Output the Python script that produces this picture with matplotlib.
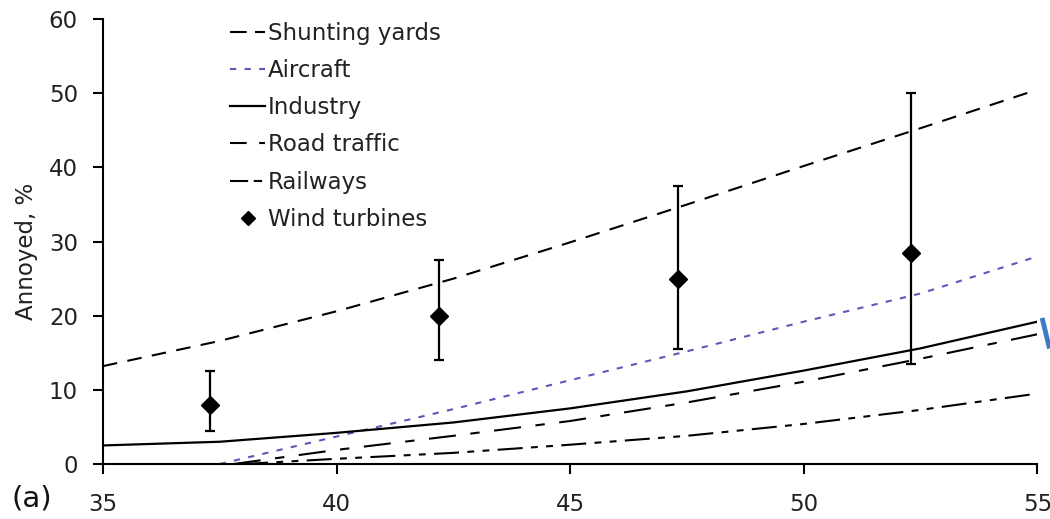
import matplotlib
matplotlib.use("Agg")
import matplotlib.pyplot as plt
from matplotlib.lines import Line2D

plt.rcParams['font.family'] = ['DejaVu Sans']

# sound level (x) and % annoyed (y)
x_full = [35, 37.5, 40, 42.5, 45, 47.5, 50, 52.5, 55]
shunting = [13.2, 16.6, 20.6, 25.0, 29.9, 35.0, 40.2, 45.3, 50.5]
industry = [2.5, 3.0, 4.2, 5.6, 7.5, 9.8, 12.6, 15.6, 19.2]

x_air = [37.5, 40, 42.5, 45, 47.5, 50, 52.5, 55]
aircraft = [0.0, 3.7, 7.4, 11.3, 15.2, 19.2, 23.0, 28.0]

x_road = [37.8, 40, 42.5, 45, 47.5, 50, 52.5, 55]
road = [0.0, 1.9, 3.8, 5.8, 8.3, 11.1, 14.2, 17.5]

x_rail = [38.0, 40, 42.5, 45, 47.5, 50, 52.5, 55]
railways = [0.0, 0.7, 1.5, 2.6, 3.8, 5.4, 7.3, 9.5]

wind_x = [37.3, 42.2, 47.3, 52.3]
wind_y = [8.0, 20.0, 25.0, 28.5]
wind_lo = [4.5, 14.0, 15.5, 13.5]
wind_hi = [12.5, 27.5, 37.5, 50.0]

labels = ['Shunting yards', 'Aircraft', 'Industry', 'Road traffic', 'Railways', 'Wind turbines']
blue = '#5a5ab8'

fig = plt.figure(figsize=(10.5, 5.19), dpi=100)
ax = fig.add_axes([0.098, 0.106, 0.890, 0.857])

ax.plot(x_full, shunting, color='black', lw=1.5, ls=(0, (7, 5)))
ax.plot(x_air, aircraft, color=blue, lw=1.5, ls=(0, (3, 4)))
ax.plot(x_full, industry, color='black', lw=1.6, ls='-')
ax.plot(x_road, road, color='black', lw=1.5, ls=(0, (13, 7, 4.5, 7)))
ax.plot(x_rail, railways, color='black', lw=1.5, ls=(0, (12, 4, 3.3, 4, 3.3, 4)))

yerr = [[y - lo for y, lo in zip(wind_y, wind_lo)], [hi - y for y, hi in zip(wind_y, wind_hi)]]
ax.errorbar(wind_x, wind_y, yerr=yerr, fmt='D', color='black', ms=9, elinewidth=1.6,
            capsize=3.5, capthick=1.6)

ax.set_xlim(35, 55)
ax.set_ylim(0, 60)
ax.set_xticks([35, 40, 45, 50, 55])
ax.set_yticks(range(0, 61, 10))
ax.spines['top'].set_visible(False)
ax.spines['right'].set_visible(False)
ax.spines['left'].set_linewidth(1.5)
ax.spines['bottom'].set_linewidth(1.5)
ax.tick_params(axis='both', labelsize=16.5, width=1.5, length=7, color='black', labelcolor='#222222')
ax.tick_params(axis='y', pad=11)
ax.tick_params(axis='x', pad=14)
ax.set_ylabel('Annoyed, %', fontsize=16.5, color='#222222')
ax.yaxis.set_label_coords(-0.0696, 0.479)
fig.text(0.011, 0.025, '(a)', fontsize=21, color='#111111')

# legend keys drawn to look like the original's short keys
handles = [
    Line2D([], [], color='black', lw=1.5, dashes=(8, 4)),
    Line2D([], [], color=blue, lw=1.5, dashes=(3, 4)),
    Line2D([], [], color='black', lw=1.6),
    Line2D([], [], color='black', lw=1.5, dashes=(8, 6, 3.5, 10)),
    Line2D([], [], color='black', lw=1.5, dashes=(8.7, 2.7, 4, 20)),
    Line2D([], [], ls='none', marker='D', color='black', ms=7),
]
leg = ax.legend(handles, labels, loc='upper left', bbox_to_anchor=(0.124, 1.02), frameon=False,
                fontsize=16.5, handlelength=1.53, handletextpad=0.1, labelspacing=0.62, borderpad=0)
for t in leg.get_texts():
    t.set_color('#222222')

# small blue mark at the right edge of the original picture
fig.add_artist(Line2D([0.993, 0.999], [0.383, 0.333], color='#3d7bc4', lw=3.5))

fig.savefig('out.png', dpi=100)
